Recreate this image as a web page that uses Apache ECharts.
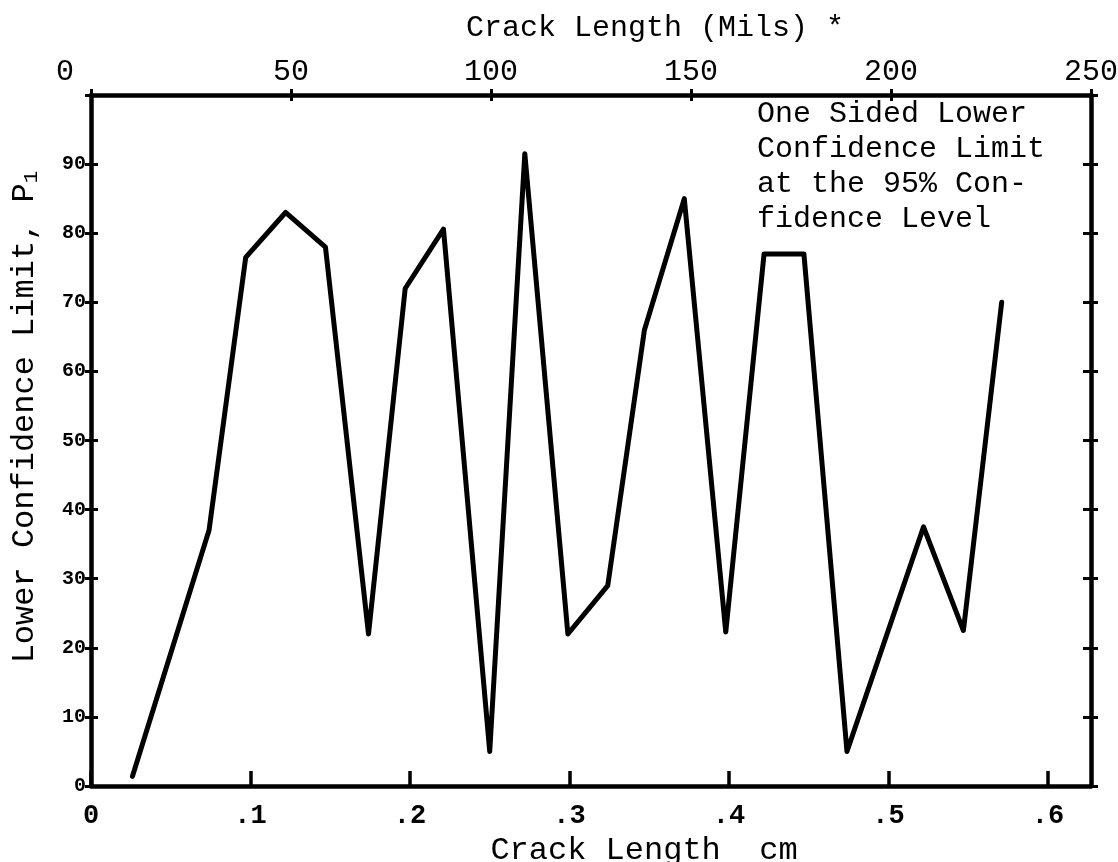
<!DOCTYPE html>
<html>
<head>
<meta charset="utf-8">
<script src="https://cdn.jsdelivr.net/npm/echarts@6/dist/echarts.min.js"></script>
<style>
  html, body { margin: 0; padding: 0; background: #ffffff; }
  #chart { width: 1118px; height: 862px; }
</style>
</head>
<body>
<div id="chart"></div>
<script>
// ---- data ----
const crackCm = [0.026, 0.074, 0.097, 0.122, 0.147, 0.174, 0.197, 0.221, 0.250, 0.272, 0.299,
                 0.324, 0.347, 0.372, 0.398, 0.422, 0.447, 0.474, 0.522, 0.547, 0.571];
const lowerLimit = [1.4, 37, 76.5, 83, 78, 22, 72, 80.6, 5, 91.5, 22,
                    29, 66, 85, 22.3, 77, 77, 5, 37.5, 22.5, 70];

const xTickLabels = ['0', '.1', '.2', '.3', '.4', '.5', '.6'];
const yTickLabels = ['0', '10', '20', '30', '40', '50', '60', '70', '80', '90'];
const milsTickLabels = ['0', '50', '100', '150', '200', '250'];

const annotationLines = ['One Sided Lower', 'Confidence Limit', 'at the 95% Con-', 'fidence Level'];
const xName = 'Crack Length  cm';
const topName = 'Crack Length (Mils) *';
const yNameMain = 'Lower Confidence Limit, P';
const yNameSub = '1';

// ---- chart ----
const FONT = '"Liberation Mono", "DejaVu Sans Mono", monospace';
const INK = '#000000';
const gridBox = { left: 91, right: 27, top: 95, bottom: 76, outerBoundsMode: 'none', containLabel: false };

function labelAt(arr, v, step) {
  const k = v / step;
  if (Math.abs(k - Math.round(k)) > 1e-6) return '';
  const s = arr[Math.round(k)];
  return s === undefined ? '' : s;
}

const chart = echarts.init(document.getElementById('chart'), null, { renderer: 'canvas' });
chart.setOption({
  backgroundColor: '#ffffff',
  animation: false,
  title: {
    text: annotationLines.join('\n'),
    left: 752, top: 92,
    textStyle: { fontFamily: FONT, fontSize: 30, lineHeight: 35, fontWeight: 'normal', color: INK }
  },
  grid: [
    Object.assign({}, gridBox),
    Object.assign({}, gridBox)
  ],
  xAxis: [
    { // bottom cm axis
      type: 'value', gridIndex: 0, position: 'bottom', min: 0, max: 0.627, interval: 0.1,
      axisLine: { show: true, onZero: false, lineStyle: { color: INK, width: 4.5 } },
      axisTick: { show: true, inside: true, length: 15, lineStyle: { color: INK, width: 3.5 } },
      splitLine: { show: false },
      axisLabel: {
        show: true, margin: 17, showMaxLabel: false, color: INK,
        fontFamily: FONT, fontSize: 27, fontWeight: 'bold',
        formatter: v => labelAt(xTickLabels, v, 0.1)
      },
      name: xName, nameLocation: 'middle', nameGap: 40,
      nameTextStyle: { fontFamily: FONT, fontSize: 32, color: INK, padding: [0, 0, 0, 106] }
    },
    { // top mils axis
      type: 'value', gridIndex: 0, position: 'top', min: 0, max: 250, interval: 50,
      axisLine: { show: true, onZero: false, lineStyle: { color: INK, width: 4.5 } },
      axisTick: { show: true, inside: true, length: 6, lineStyle: { color: INK, width: 3 } },
      splitLine: { show: false },
      axisLabel: {
        show: true, margin: 8, showMinLabel: true, showMaxLabel: true, color: INK,
        fontFamily: FONT, fontSize: 30,
        formatter: v => {
          const s = labelAt(milsTickLabels, v, 50);
          return v === 0 ? '{z|' + s + '}' : '{n|' + s + '}';
        },
        rich: {
          z: { fontFamily: FONT, fontSize: 30, color: INK, padding: [0, 52, 0, 0] },
          n: { fontFamily: FONT, fontSize: 30, color: INK }
        }
      },
      name: topName, nameLocation: 'middle', nameGap: 52,
      nameTextStyle: { fontFamily: FONT, fontSize: 30, color: INK, padding: [0, 0, 0, 128] }
    },
    { // outer half of the top cross ticks
      type: 'value', gridIndex: 1, position: 'top', min: 0, max: 250, interval: 50,
      axisLine: { show: false, onZero: false },
      axisTick: { show: true, inside: false, length: 6, lineStyle: { color: INK, width: 3 } },
      splitLine: { show: false }, axisLabel: { show: false }
    }
  ],
  yAxis: [
    { // left value axis
      type: 'value', gridIndex: 0, position: 'left', min: 0, max: 100, interval: 10,
      axisLine: { show: true, onZero: false, lineStyle: { color: INK, width: 4.5 } },
      axisTick: { show: true, inside: true, length: 7, lineStyle: { color: INK, width: 3 } },
      splitLine: { show: false },
      axisLabel: {
        show: true, margin: 5, color: INK, fontFamily: FONT, fontSize: 20, fontWeight: 'bold',
        formatter: v => labelAt(yTickLabels, v, 10)
      },
      name: '{a|' + yNameMain + '}{s|' + yNameSub + '}',
      nameLocation: 'middle', nameRotate: 90, nameGap: 50,
      nameTextStyle: {
        color: INK, padding: [0, 0, 0, 47],
        rich: {
          a: { fontFamily: FONT, fontSize: 32, color: INK, lineHeight: 32 },
          s: { fontFamily: FONT, fontSize: 21, color: INK, lineHeight: 21, padding: [13, 0, 0, 0] }
        }
      }
    },
    { // right frame with inner ticks
      type: 'value', gridIndex: 0, position: 'right', min: 0, max: 100, interval: 10,
      axisLine: { show: true, onZero: false, lineStyle: { color: INK, width: 4.5 } },
      axisTick: { show: true, inside: true, length: 8, lineStyle: { color: INK, width: 3 } },
      splitLine: { show: false }, axisLabel: { show: false }
    },
    { // outer half of the left cross ticks
      type: 'value', gridIndex: 1, position: 'left', min: 0, max: 100, interval: 10,
      axisLine: { show: false, onZero: false },
      axisTick: { show: true, inside: false, length: 6, lineStyle: { color: INK, width: 3 } },
      splitLine: { show: false }, axisLabel: { show: false }
    },
    { // outer half of the right cross ticks
      type: 'value', gridIndex: 1, position: 'right', min: 0, max: 100, interval: 10,
      axisLine: { show: false, onZero: false },
      axisTick: { show: true, inside: false, length: 7, lineStyle: { color: INK, width: 3 } },
      splitLine: { show: false }, axisLabel: { show: false }
    }
  ],
  series: [
    {
      type: 'line', xAxisIndex: 0, yAxisIndex: 0,
      data: crackCm.map((x, i) => [x, lowerLimit[i]]),
      showSymbol: false, symbol: 'none',
      lineStyle: { color: INK, width: 5, join: 'round', cap: 'round' },
      silent: true
    }
  ]
});
</script>
</body>
</html>
